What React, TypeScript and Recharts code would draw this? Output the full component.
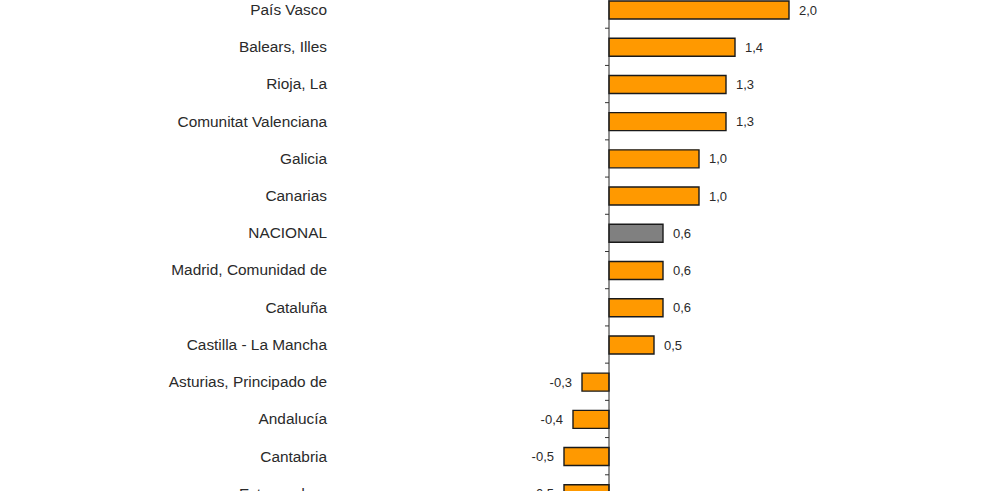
import React from 'react';
import { BarChart, Bar, XAxis, YAxis, Cell, LabelList, ReferenceLine } from 'recharts';

const regions = [
  'País Vasco',
  'Balears, Illes',
  'Rioja, La',
  'Comunitat Valenciana',
  'Galicia',
  'Canarias',
  'NACIONAL',
  'Madrid, Comunidad de',
  'Cataluña',
  'Castilla - La Mancha',
  'Asturias, Principado de',
  'Andalucía',
  'Cantabria',
  'Extremadura',
];
const values = [2.0, 1.4, 1.3, 1.3, 1.0, 1.0, 0.6, 0.6, 0.6, 0.5, -0.3, -0.4, -0.5, -0.5];
const highlight = 'NACIONAL';

const data = regions.map((name, i) => ({ name, value: values[i] }));

const CHART_W = 990;
const CHART_H = 521;
const Y_AXIS_W = 519;
const MARGIN_RIGHT = 111;
const X_MIN = -1;
const X_MAX = 3;
const PLOT_W = CHART_W - Y_AXIS_W - MARGIN_RIGHT;
const ZERO_OFFSET = ((0 - X_MIN) / (X_MAX - X_MIN)) * PLOT_W;
const BAND = CHART_H / regions.length;

const fmt = (v: number) => v.toFixed(1).replace('.', ',');

const RegionTick = (props: any) => {
  const { x, y, payload, index } = props;
  const zeroX = x + ZERO_OFFSET;
  return (
    <g>
      <text x={zeroX - 282} y={y} dy="0.35em" textAnchor="end" fontSize={15.4} fill="#2a2a2a">
        {payload.value}
      </text>
      <line x1={zeroX - 4} x2={zeroX} y1={y - BAND / 2} y2={y - BAND / 2} stroke="#333" />
      {index === regions.length - 1 && (
        <line x1={zeroX - 4} x2={zeroX} y1={y + BAND / 2} y2={y + BAND / 2} stroke="#333" />
      )}
    </g>
  );
};

export default function App() {
  return (
    <div style={{ position: 'fixed', inset: 0, overflow: 'hidden', background: '#fff' }}>
      <div style={{ marginTop: -9, fontFamily: '"Liberation Sans", Arial, sans-serif' }}>
        <BarChart
          width={CHART_W}
          height={CHART_H}
          data={data}
          layout="vertical"
          margin={{ top: 0, right: MARGIN_RIGHT, bottom: 0, left: 0 }}
        >
          <XAxis type="number" domain={[X_MIN, X_MAX]} hide />
          <YAxis
            type="category"
            dataKey="name"
            width={Y_AXIS_W}
            axisLine={false}
            tickLine={false}
            tickSize={0}
            tickMargin={0}
            interval={0}
            tick={<RegionTick />}
          />
          <ReferenceLine x={0} stroke="#222" strokeWidth={1} />
          <Bar dataKey="value" barSize={18} stroke="#1a1a1a" strokeWidth={1.4} isAnimationActive={false}>
            {data.map((d) => (
              <Cell key={d.name} fill={d.name === highlight ? '#808080' : '#FF9900'} />
            ))}
            <LabelList
              dataKey="value"
              position="right"
              offset={10}
              fontSize={13}
              fill="#2a2a2a"
              formatter={(v: any) => fmt(Number(v))}
            />
          </Bar>
        </BarChart>
      </div>
    </div>
  );
}
